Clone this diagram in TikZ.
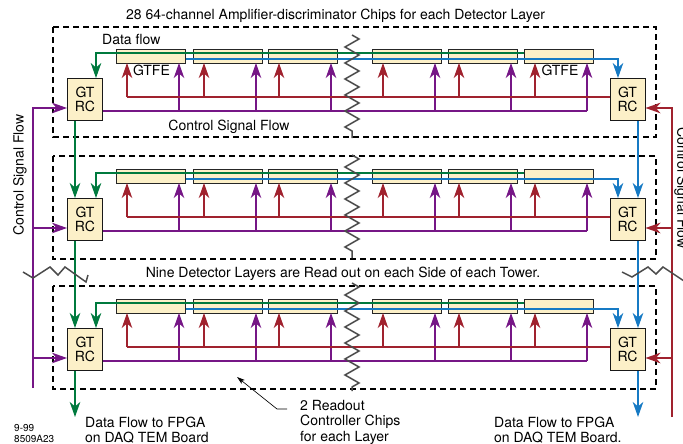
\documentclass[tikz,border=0pt]{standalone}
\usepackage{fontspec}
\setmainfont{TeX Gyre Heros}
\usetikzlibrary{arrows.meta,decorations.pathmorphing}

\definecolor{dataG}{RGB}{0,122,62}
\definecolor{dataB}{RGB}{22,122,196}
\definecolor{sigR}{RGB}{160,34,46}
\definecolor{sigP}{RGB}{118,22,134}
\definecolor{chipfill}{RGB}{252,240,200}
\definecolor{brkgray}{RGB}{75,75,75}

\begin{document}
\begin{tikzpicture}[x=1pt,y=-1pt,
  every node/.style={inner sep=0pt,font=\fontsize{14}{15.5}\selectfont},
  chip/.style={draw=black!85,fill=chipfill,line width=0.8pt,minimum width=69pt,minimum height=14pt,anchor=north west},
  rc/.style={draw=black!90,fill=chipfill,line width=0.9pt,minimum width=35pt,minimum height=42pt,align=center,font=\fontsize{14}{14.5}\selectfont},
  layerbox/.style={dash pattern=on 6pt off 4pt,line width=1.1pt},
  thinln/.style={line width=1.1pt},
  thickln/.style={line width=2pt},
  arr/.style={-{Stealth[length=15pt,width=10.5pt,inset=4.5pt]}},
  brk/.style={brkgray,line width=1.5pt,line join=miter},
  zz/.style={brk,decorate,decoration={zigzag,segment length=16pt,amplitude=7pt}}]
\useasboundingbox (0,0) rectangle (683,444);

% three detector layers
\foreach \l/\c/\t/\b in {1/49/27/137, 2/169/156/259, 3/299/286/389} {
  \draw[layerbox] (53,\t) rectangle (656,\b);
  \coordinate (redrow\l) at (0,\c+48);
  \coordinate (purrow\l) at (0,\c+62);
  \coordinate (outrow\l) at (0,\c+59);
  \node[rc] (L\l) at (85,\c+50.5) {GT\\RC};
  \node[rc] (R\l) at (627.5,\c+50.5) {GT\\RC};
  \foreach \i/\x in {1/116,2/193,3/268,4/372,5/448,6/524} {
    \node[chip] (c\l\i) at (\x,\c) {};
    \coordinate (rin\l\i) at (\x+11,\c+14);
    \coordinate (vin\l\i) at (\x+63,\c+14);
    \draw[sigR,thinln,arr] (\x+11,\c+48) -- (rin\l\i);
    \draw[sigP,thinln,arr] (\x+63,\c+62) -- (vin\l\i);
  }
  \draw[sigR,thinln] (R\l.west |- redrow\l) -- (rin\l1 |- redrow\l);
  \draw[sigP,thinln] (L\l.east |- purrow\l) -- (vin\l6 |- purrow\l);
  % data lines through the chips
  \draw[dataG,thinln,arr] ([yshift=-4pt]c\l6.north west) -| ([xshift=11pt]L\l.north);
  \draw[dataB,thinln,arr] ([yshift=-10pt]c\l1.north east) -| ([xshift=-9.5pt]R\l.north);
}

% data flow between the controllers
\coordinate (gout) at (75,417);
\coordinate (bout) at (638,417);
\draw[dataG,thickln,arr] ([xshift=-10pt]L1.south) -- ([xshift=-10pt]L2.north);
\draw[dataG,thickln,arr] ([xshift=-10pt]L2.south) -- ([xshift=-10pt]L3.north);
\draw[dataG,thickln,arr] ([xshift=-10pt]L3.south) -- (gout);
\draw[dataB,thickln,arr] ([xshift=10.5pt]R1.south) -- ([xshift=10.5pt]R2.north);
\draw[dataB,thickln,arr] ([xshift=10.5pt]R2.south) -- ([xshift=10.5pt]R3.north);
\draw[dataB,thickln,arr] ([xshift=10.5pt]R3.south) -- (bout);

% control signals from outside
\coordinate (pbot) at (33,388);
\coordinate (rbot) at (672,417);
\draw[sigP,thickln,arr] (pbot) |- (L1.west |- outrow1);
\draw[sigP,thickln,arr] (pbot |- outrow2) -- (L2.west |- outrow2);
\draw[sigP,thickln,arr] (pbot |- outrow3) -- (L3.west |- outrow3);
\draw[sigR,thickln,arr] (rbot) |- (R1.east |- outrow1);
\draw[sigR,thickln,arr] (rbot |- outrow2) -- (R2.east |- outrow2);
\draw[sigR,thickln,arr] (rbot |- outrow3) -- (R3.east |- outrow3);

% breaks
\draw[zz] (352,35) -- (352,138);
\draw[zz] (352,155) -- (352,258);
\draw[zz] (352,283) -- (352,391);
\draw[brk] (23,272) -- (33,278) -- (50,267) -- (58,275) -- (65,267) -- (86,282) -- (88,275);
\draw[brk] (622,272) -- (632,277) -- (648,267) -- (656,274) -- (663,267) -- (690,285);

% labels
\node[anchor=base] (ttl) at (335.5,20) {28 64-channel Amplifier-discriminator Chips for each Detector Layer};
\node[anchor=base west] (dfl) at (102,45) {Data flow};
\node[anchor=base] (gtfeL) at (151.5,75) {GTFE};
\node[anchor=base] (gtfeR) at (560,75) {GTFE};
\node[anchor=base] (csf) at (229,130.5) {Control Signal Flow};
\node[anchor=base] (nine) at (343,277.5) {Nine Detector Layers are Read out on each Side of each Tower.};
\node[rotate=90] (csl) at (20,175) {Control Signal Flow};
\node[rotate=-90] (csr) at (681,188) {Control Signal Flow};
\node[anchor=north west,align=left] (dfL) at (85,416.5) {Data Flow to FPGA\\on DAQ TEM Board};
\node[anchor=north west,align=left] (dfR) at (494,416.5) {Data Flow to FPGA\\on DAQ TEM Board.};
\node[anchor=north west,align=left] (rdnote) at (300,400) {2 Readout\\Controller Chips\\for each Layer};
\node[anchor=north west,align=left,font=\fontsize{10}{11}\selectfont] (fig) at (14,424.5) {9-99\\8509A23};
\coordinate (ldr) at (237,377);
\draw[line width=0.7pt,-{Stealth[length=8pt,width=5pt,inset=2pt]}] ([shift={(-13pt,-9pt)}]rdnote.north west) -- ++(-10,0) -- (ldr);
\end{tikzpicture}
\end{document}
